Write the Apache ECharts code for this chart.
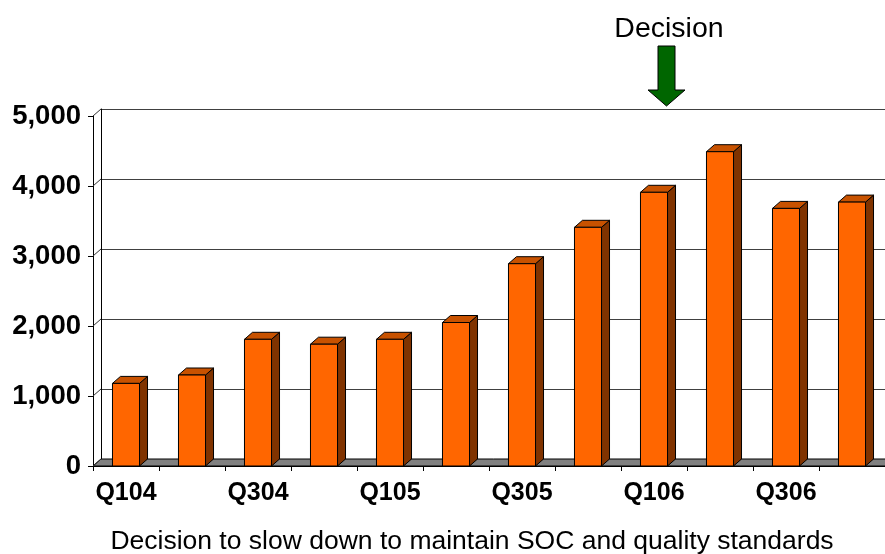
<!DOCTYPE html>
<html>
<head>
<meta charset="utf-8">
<script src="https://cdn.jsdelivr.net/npm/echarts@6.0.0/dist/echarts.min.js"></script>
<style>
  html, body { margin: 0; padding: 0; background: #fff; }
  #chart { width: 885px; height: 554px; }
</style>
</head>
<body>
<div id="chart"></div>
<script>
// Quarterly volume, Q1 2004 – Q4 2006
const categories = ['Q104', 'Q204', 'Q304', 'Q404', 'Q105', 'Q205', 'Q305', 'Q405', 'Q106', 'Q206', 'Q306', 'Q406'];
const volumes = [1180, 1300, 1810, 1740, 1810, 2050, 2890, 3410, 3910, 4490, 3680, 3770];
const yTicks = [0, 1000, 2000, 3000, 4000, 5000];
const caption = 'Decision to slow down to maintain SOC and quality standards';
const marker = 'Decision';

// depth of the pseudo-3D walls and columns
const DX = 8, DY = -7;
const FONT = '"Liberation Sans", Arial, sans-serif';

const chart = echarts.init(document.getElementById('chart'), null, { renderer: 'canvas' });

function renderColumn(params, api) {
  const i = api.value(0), v = api.value(1);
  const base = api.coord([i, 0]);
  const top = api.coord([i, v]);
  const w = api.size([1, 0])[0] * 0.41;
  const x0 = base[0] - w / 2, x1 = base[0] + w / 2;
  const yb = base[1], yt = top[1];
  const edge = { stroke: '#000', lineWidth: 1 };
  return {
    type: 'group',
    children: [
      { type: 'polygon', shape: { points: [[x1, yt], [x1 + DX, yt + DY], [x1 + DX, yb + DY], [x1, yb]] },
        style: Object.assign({ fill: '#803300' }, edge) },
      { type: 'polygon', shape: { points: [[x0, yt], [x0 + DX, yt + DY], [x1 + DX, yt + DY], [x1, yt]] },
        style: Object.assign({ fill: '#c85200' }, edge) },
      { type: 'rect', shape: { x: x0, y: yt, width: w, height: yb - yt },
        style: Object.assign({ fill: '#ff6600' }, edge) }
    ]
  };
}

// side wall gridlines and the floor
function renderWalls(params, api) {
  const v = api.value(1);
  const half = api.size([1, 0])[0] / 2;
  const p = api.coord([0, v]);
  const xl = p[0] - half;
  const children = [
    { type: 'line', shape: { x1: xl, y1: p[1], x2: xl + DX, y2: p[1] + DY },
      style: { stroke: '#333', lineWidth: 1 } }
  ];
  if (v === 0) {
    const q = api.coord([categories.length - 1, 0]);
    const xr = q[0] + half;
    children.unshift({
      type: 'polygon',
      shape: { points: [[xl, p[1]], [xl + DX, p[1] + DY], [xr + DX, p[1] + DY], [xr, p[1]]] },
      style: { fill: '#808080', stroke: '#000', lineWidth: 1 }
    });
  }
  return { type: 'group', children };
}

const option = {
  animation: false,
  backgroundColor: '#fff',
  title: [
    {
      text: caption, left: 467, top: 523, textAlign: 'center',
      textStyle: { fontFamily: FONT, fontSize: 26.5, fontWeight: 'normal', color: '#000' }
    },
    {
      text: marker, left: 664, top: 10, textAlign: 'center',
      textStyle: { fontFamily: FONT, fontSize: 28.5, fontWeight: 'normal', color: '#000' }
    }
  ],
  grid: [
    { left: 93, right: 0, top: 116, bottom: 88 },
    { left: 101, right: -8, top: 109, bottom: 95 }
  ],
  xAxis: [
    {
      type: 'category', gridIndex: 0, data: categories, boundaryGap: true,
      axisLine: { show: true, lineStyle: { color: '#000', width: 1 } },
      axisTick: { show: true, interval: 0, length: 5, lineStyle: { color: '#000' } },
      axisLabel: { interval: 1, margin: 15, fontFamily: FONT, fontSize: 25, fontWeight: 'bold', color: '#000' },
      splitLine: { show: false }
    },
    {
      type: 'category', gridIndex: 1, data: categories, boundaryGap: true,
      axisLine: { show: true, lineStyle: { color: '#000' } },
      axisTick: { show: false }, axisLabel: { show: false }, splitLine: { show: false }
    }
  ],
  yAxis: [
    {
      type: 'value', gridIndex: 0, min: 0, max: 5000, interval: 1000,
      axisLine: { show: true, lineStyle: { color: '#000', width: 1 } },
      axisTick: { show: true, length: 5, lineStyle: { color: '#000' } },
      axisLabel: {
        margin: 12, fontFamily: FONT, fontSize: 27.5, fontWeight: 'bold', color: '#000',
        formatter: v => v.toLocaleString('en-US')
      },
      splitLine: { show: false }
    },
    {
      type: 'value', gridIndex: 1, min: 0, max: 5000, interval: 1000,
      axisLine: { show: true, lineStyle: { color: '#000' } },
      axisTick: { show: false }, axisLabel: { show: false },
      splitLine: { show: true, lineStyle: { color: '#404040', width: 1 } }
    }
  ],
  graphic: [
    {
      type: 'polygon', z: 10,
      shape: { points: [[658, 46], [675, 46], [675, 90], [685, 90], [666.5, 106], [648, 90], [658, 90]] },
      style: { fill: '#006600', stroke: '#000', lineWidth: 1 }
    }
  ],
  series: [
    {
      type: 'custom', name: 'walls', xAxisIndex: 0, yAxisIndex: 0, z: 1, clip: false,
      renderItem: renderWalls, data: yTicks.map(v => [0, v]), silent: true
    },
    {
      type: 'custom', name: 'volume', xAxisIndex: 0, yAxisIndex: 0, z: 3, clip: false,
      renderItem: renderColumn, data: volumes.map((v, i) => [i, v]),
      encode: { x: 0, y: 1 }
    }
  ]
};

chart.setOption(option);
</script>
</body>
</html>
